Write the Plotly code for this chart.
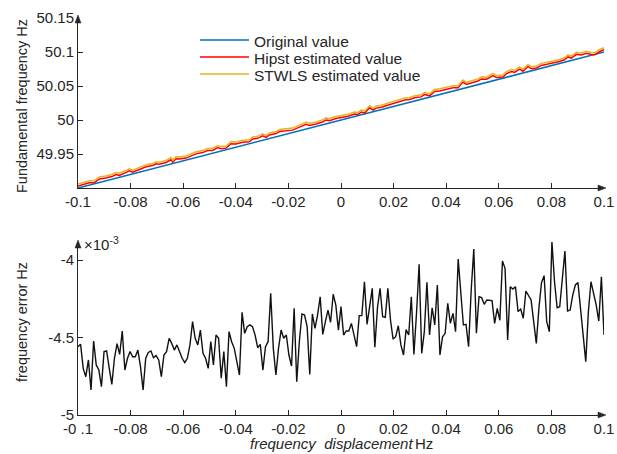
import numpy as np
import plotly.graph_objects as go

# ---------------- data ----------------
# frequency error (units of 1e-3 Hz)
err_e3 = [
    -4.559, -4.544, -4.699, -4.753, -4.645, -4.839, -4.523, -4.677, -4.710, -4.817,
    -4.591, -4.587, -4.699, -4.802, -4.634, -4.540, -4.609, -4.458, -4.710, -4.634,
    -4.591, -4.624, -4.624, -4.581, -4.688, -4.839, -4.634, -4.596, -4.587, -4.630,
    -4.617, -4.645, -4.753, -4.613, -4.591, -4.505, -4.538, -4.581, -4.548, -4.591,
    -4.634, -4.662, -4.634, -4.548, -4.398, -4.505, -4.548, -4.452, -4.602, -4.634,
    -4.699, -4.527, -4.677,
    -4.484, -4.505, -4.763, -4.591, -4.817, -4.462, -4.527, -4.570, -4.656, -4.742,
    -4.338, -4.473, -4.430, -4.419, -4.430, -4.484, -4.566, -4.544, -4.710, -4.559,
    -4.527, -4.215, -4.570, -4.742, -4.570, -4.452, -4.505, -4.484, -4.613, -4.684,
    -4.312, -4.785, -4.527, -4.348, -4.355, -4.430, -4.738, -4.348, -4.441, -4.355,
    -4.237, -4.480, -4.398, -4.323, -4.402, -4.221, -4.290, -4.452, -4.301, -4.484,
    -4.458, -4.458, -4.409, -4.484, -4.559, -4.359, -4.359, -4.140, -4.415, -4.301,
    -4.183, -4.563, -4.308, -4.183, -4.366, -4.370, -4.183, -4.387, -4.510, -4.495,
    -4.424, -4.548, -4.613, -4.449, -4.484, -4.237, -4.609, -4.344, -4.028, -4.602,
    -4.462, -4.144, -4.484, -4.308, -4.419, -4.161, -4.613, -4.495, -4.473, -4.280,
    -4.409, -4.344, -4.462, -3.994, -4.226, -4.419, -4.415, -4.559, -4.194, -3.929,
    -4.473, -4.237, -4.243, -4.286, -4.258, -4.262, -4.262, -4.409, -4.312, -4.389,
    -4.006, -4.054, -4.516, -4.172, -4.187, -4.172, -4.333, -4.316, -4.376, -4.200,
    -4.230, -4.258, -4.398, -4.538, -4.312, -4.146, -4.101, -4.398, -4.462, -3.882,
    -4.140, -4.308, -4.301, -4.118, -3.942, -4.329, -4.323, -4.226, -4.161, -4.146,
    -4.333, -4.484, -4.656, -4.333, -4.140, -4.215, -4.290, -4.394, -4.108, -4.484,
]
disp_start, disp_end = -0.1, 0.1
nominal_f = 50.0

# upper panel: displacement samples and Hipst offset above the true value (mHz)
top_disp = [
    -0.1000, -0.0982, -0.0957, -0.0938, -0.0919, -0.0894, -0.0868, -0.0856, -0.0843, -0.0817,
    -0.0805, -0.0792, -0.0767, -0.0741, -0.0716, -0.0703, -0.0691, -0.0665, -0.0646, -0.0640,
    -0.0627, -0.0615, -0.0589, -0.0570, -0.0551, -0.0526, -0.0507, -0.0488, -0.0469, -0.0456,
    -0.0437, -0.0418, -0.0399, -0.0374, -0.0349, -0.0336, -0.0317, -0.0298, -0.0285, -0.0272,
    -0.0247, -0.0234, -0.0209, -0.0184, -0.0158, -0.0133, -0.0120, -0.0095, -0.0070, -0.0057,
    -0.0044, -0.0019,
    0.0027, 0.0052, 0.0065, 0.0077, 0.0090, 0.0109, 0.0122, 0.0134, 0.0153, 0.0179,
    0.0204, 0.0223, 0.0242, 0.0261, 0.0280, 0.0305, 0.0318, 0.0337, 0.0356, 0.0375,
    0.0394, 0.0413, 0.0426, 0.0445, 0.0464, 0.0477, 0.0496, 0.0521, 0.0534, 0.0553,
    0.0578, 0.0591, 0.0616, 0.0629, 0.0648, 0.0660, 0.0679, 0.0692, 0.0711, 0.0724,
    0.0743, 0.0762, 0.0787, 0.0812, 0.0831, 0.0850, 0.0863, 0.0876, 0.0895, 0.0914,
    0.0933, 0.0952, 0.0965, 0.0984, 0.1000,
]
hipst_dev_mhz = [
    2.9, 3.5, 3.5, 1.7, 5.3, 4.1, 4.1, 5.3, 2.9, 4.7,
    5.8, 2.3, 4.1, 5.3, 4.7, 5.8, 4.1, 4.1, 6.4, 1.7,
    5.8, 4.1, 2.9, 4.7, 5.3, 4.7, 5.8, 4.1, 6.4, 3.5,
    2.3, 7.0, 4.7, 4.7, 2.9, 5.8, 4.7, 6.4, 2.9, 5.3,
    4.7, 6.4, 5.3, 3.5, 5.3, 7.0, 4.1, 3.5, 4.1, 5.8,
    3.5, 4.1,
    2.9, 3.5, 1.7, 4.1, 1.1, 7.0, 2.3, 4.1, 3.5, 4.1,
    4.7, 5.3, 5.3, 4.1, 4.7, 3.5, 5.8, 1.7, 6.4, 5.3,
    4.7, 4.1, 4.7, 2.9, 9.4, 4.7, 5.3, 5.3, 7.0, 4.7,
    7.6, 3.5, 1.7, 5.3, 6.4, 4.1, 7.0, 2.3, 7.6, 2.9,
    2.3, 4.1, 3.5, 2.9, 2.9, 3.5, 6.4, 3.5, 7.0, 4.1,
    4.7, 1.1, -0.6, 2.3, 3.5,
]
stwls_extra_mhz = 3.0  # STWLS curve runs just above the Hipst curve

x_ticks = [-0.1, -0.08, -0.06, -0.04, -0.02, 0, 0.02, 0.04, 0.06, 0.08, 0.1]
x_ticktext_top = ["-0.1", "-0.08", "-0.06", "-0.04", "-0.02", "0", "0.02", "0.04", "0.06", "0.08", "0.1"]
x_ticktext_bot = ["-0 .1", "-0.08", "-0.06", "-0.04", "-0.02", "0", "0.02", "0.04", "0.06", "0.08", "0.1"]
y1_ticks = [49.95, 50, 50.05, 50.1, 50.15]
y1_ticktext = ["49.95", "50", "50.05", "50.1", "50.15"]
y2_ticks = [-5, -4.5, -4]
y2_ticktext = ["-5", "-4.5", "-4"]

disp = np.linspace(disp_start, disp_end, len(err_e3))
tdisp = np.array(top_disp)
original = nominal_f + tdisp
hipst = original + np.array(hipst_dev_mhz) * 1e-3
stwls = hipst + stwls_extra_mhz * 1e-3

# ---------------- figure ----------------
W, H = 617, 454
FONT = "Liberation Sans, Arial, sans-serif"
AX = "#262626"


def px(x):
    return x / W


def py(y):
    return 1 - y / H


fig = go.Figure()
fig.add_trace(go.Scatter(x=tdisp, y=original, mode="lines", line=dict(color="#0072BD", width=1.6),
                         xaxis="x", yaxis="y", showlegend=False))
fig.add_trace(go.Scatter(x=tdisp, y=hipst, mode="lines", line=dict(color="#FF0000", width=1.5),
                         xaxis="x", yaxis="y", showlegend=False))
fig.add_trace(go.Scatter(x=tdisp, y=stwls, mode="lines", line=dict(color="#EDB120", width=1.5),
                         xaxis="x", yaxis="y", showlegend=False))
fig.add_trace(go.Scatter(x=disp, y=err_e3, mode="lines", line=dict(color="#111111", width=1.4),
                         xaxis="x2", yaxis="y2", showlegend=False))

x0p, x1p = 78, 604
top_y0, top_y1 = 188, 17
bot_y0, bot_y1 = 415, 242

common = dict(showline=True, linecolor=AX, linewidth=1, ticks="inside", ticklen=5, tickcolor=AX,
              tickwidth=1, showgrid=False, zeroline=False, mirror=False, automargin=False,
              tickfont=dict(family=FONT, size=15, color=AX))

fig.update_layout(
    width=W, height=H, autosize=False,
    margin=dict(l=0, r=0, t=0, b=0, autoexpand=False),
    paper_bgcolor="white", plot_bgcolor="white",
    showlegend=False,
    xaxis=dict(domain=[px(x0p), px(x1p)], range=[disp_start, disp_end], anchor="y",
               tickmode="array", tickvals=x_ticks, ticktext=x_ticktext_top, **common),
    yaxis=dict(domain=[py(top_y0), py(top_y1)], range=[49.9, 50.15 + 0.25 / 171], anchor="x",
               tickmode="array", tickvals=y1_ticks, ticktext=y1_ticktext, **common),
    xaxis2=dict(domain=[px(x0p), px(x1p)], range=[disp_start, disp_end], anchor="y2",
                tickmode="array", tickvals=x_ticks, ticktext=x_ticktext_bot, **common),
    yaxis2=dict(domain=[py(bot_y0), py(bot_y1)], range=[-5, -5 + (bot_y0 - bot_y1) / 155], anchor="x2",
                tickmode="array", tickvals=y2_ticks, ticktext=y2_ticktext, **common),
)

shapes = []
for yb, yt in [(top_y0, top_y1), (bot_y0, bot_y1)]:
    shapes.append(dict(type="path", xref="paper", yref="paper",
                       path=f"M {px(x1p+2)} {py(yb)} L {px(x1p-6)} {py(yb-3)} L {px(x1p-6)} {py(yb+3)} Z",
                       fillcolor=AX, line=dict(color=AX, width=0.5)))
    shapes.append(dict(type="path", xref="paper", yref="paper",
                       path=f"M {px(x0p)} {py(yt-2)} L {px(x0p-3)} {py(yt+6)} L {px(x0p+3)} {py(yt+6)} Z",
                       fillcolor=AX, line=dict(color=AX, width=0.5)))

leg_names = ["Original value", "Hipst estimated value", "STWLS estimated value"]
leg_colors = ["#0072BD", "#FF0000", "#EDB120"]
leg_y = [40, 57, 74]
annotations = []
for name, col, yy in zip(leg_names, leg_colors, leg_y):
    shapes.append(dict(type="line", xref="paper", yref="paper", x0=px(200), x1=px(249),
                       y0=py(yy), y1=py(yy), line=dict(color=col, width=1.5)))
    annotations.append(dict(xref="paper", yref="paper", x=px(252), y=py(yy + 1), text=name, showarrow=False,
                            xanchor="left", yanchor="middle", font=dict(family=FONT, size=15.5, color=AX)))

annotations.append(dict(xref="paper", yref="paper", x=px(22), y=py(106), text="Fundamental frequency Hz",
                        textangle=-90, showarrow=False, xanchor="center", yanchor="middle",
                        font=dict(family=FONT, size=14.5, color=AX)))
annotations.append(dict(xref="paper", yref="paper", x=px(22), y=py(322), text="frequency error Hz",
                        textangle=-90, showarrow=False, xanchor="center", yanchor="middle",
                        font=dict(family=FONT, size=14.5, color=AX)))
annotations.append(dict(xref="paper", yref="paper", x=px(248), y=py(443),
                        text="<i>frequency  displacement</i>", showarrow=False,
                        xanchor="left", yanchor="middle", font=dict(family=FONT, size=15, color=AX)))
annotations.append(dict(xref="paper", yref="paper", x=px(413), y=py(443), text="Hz", showarrow=False,
                        xanchor="left", yanchor="middle", font=dict(family=FONT, size=15, color=AX)))
annotations.append(dict(xref="paper", yref="paper", x=px(82), y=py(244), text="×10<sup>-3</sup>",
                        showarrow=False, xanchor="left", yanchor="middle",
                        font=dict(family=FONT, size=15, color=AX)))

fig.update_layout(shapes=shapes, annotations=annotations)
fig.write_html("out.html")
